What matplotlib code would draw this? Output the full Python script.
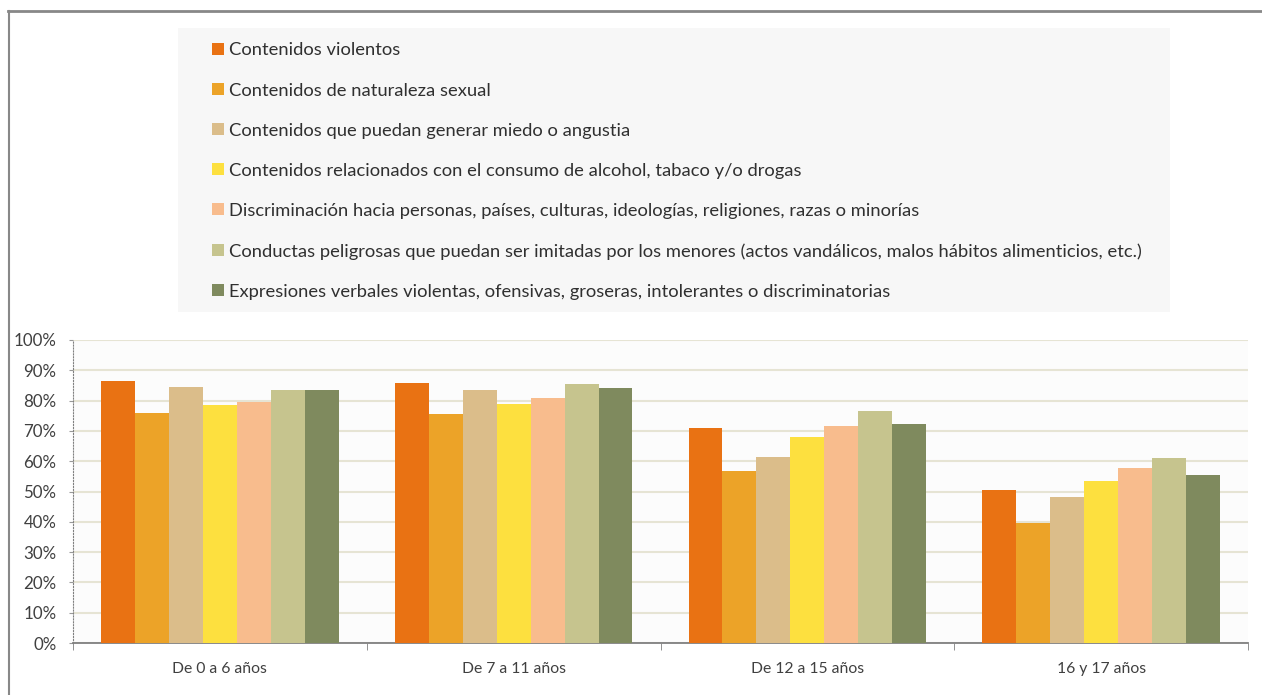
import matplotlib
matplotlib.use('Agg')
import matplotlib.pyplot as plt
from matplotlib.lines import Line2D
from matplotlib.patches import Rectangle
import numpy as np

plt.rcParams['font.family'] = ['Lato', 'DejaVu Sans']

categories = ['De 0 a 6 años', 'De 7 a 11 años', 'De 12 a 15 años', '16 y 17 años']

series_names = [
    'Contenidos violentos',
    'Contenidos de naturaleza sexual',
    'Contenidos que puedan generar miedo o angustia',
    'Contenidos relacionados con el consumo de alcohol, tabaco y/o drogas',
    'Discriminación hacia personas, países, culturas, ideologías, religiones, razas o minorías',
    'Conductas peligrosas que puedan ser imitadas por los menores (actos vandálicos, malos hábitos alimenticios, etc.)',
    'Expresiones verbales violentas, ofensivas, groseras, intolerantes o discriminatorias',
]

violentos = [0.866, 0.859, 0.709, 0.504]
sexual = [0.758, 0.757, 0.569, 0.397]
miedo = [0.846, 0.836, 0.615, 0.482]
alcohol = [0.785, 0.788, 0.680, 0.534]
discriminacion = [0.796, 0.810, 0.715, 0.579]
conductas = [0.836, 0.856, 0.765, 0.609]
expresiones = [0.836, 0.843, 0.722, 0.556]

colors = ['#E97213', '#ECA328', '#DBBD8A', '#FDE03F', '#F8BC8D', '#C6C48E', '#7F8A5E']

values = [violentos, sexual, miedo, alcohol, discriminacion, conductas, expresiones]

W, H = 1262, 695
fig = plt.figure(figsize=(W / 100, H / 100), dpi=100)
fig.patch.set_facecolor('white')
ax = fig.add_axes([73/W, 52/H, (1248-73)/W, (643-340)/H])
ax.set_facecolor('#FCFCFC')

x = np.arange(len(categories))
w = 0.1156
handles = []
for j, (name, vals) in enumerate(zip(series_names, values)):
    b = ax.bar(x + (j - 3) * w, vals, width=w, color=colors[j], label=name, zorder=3)
    handles.append(b)

ax.set_xlim(-0.5, 3.5)
ax.set_ylim(0, 1)
yt = np.arange(0, 1.01, 0.1)
ax.set_yticks(yt)
ax.set_yticklabels([f'{int(round(v*100))}%' for v in yt], fontsize=12.2, color='#404040')
ax.yaxis.grid(True, color='#E6E4D4', linewidth=1.5, zorder=0)
ax.tick_params(axis='y', length=3, color='#999999', pad=9)

ax.set_xticks(x)
ax.set_xticklabels(categories, fontsize=11.3, color='#404040')
ax.set_xticks(np.arange(-0.5, 3.6, 1), minor=True)
ax.tick_params(axis='x', which='major', length=0, pad=14)
ax.tick_params(axis='x', which='minor', length=5, color='#808080')

for s in ['top', 'right']:
    ax.spines[s].set_visible(False)
ax.spines['left'].set_linestyle(':')
ax.spines['left'].set_color('#808080')
ax.spines['bottom'].set_color('#808080')
ax.spines['bottom'].set_linewidth(1.3)

# legend background box
fig.add_artist(Rectangle((178/W, 1 - 312/H), 992/W, 284/H, transform=fig.transFigure,
                         facecolor='#F7F7F7', edgecolor='none', zorder=0))

leg = fig.legend(handles=handles, loc='upper left',
                 bbox_to_anchor=(201/W, 1 - 31/H),
                 fontsize=13.25, frameon=False,
                 handlelength=0.62, handleheight=0.62, handletextpad=0.3,
                 labelspacing=1.31, borderpad=0.62, borderaxespad=0)
for t in leg.get_texts():
    t.set_color('#303030')

# outer frame lines
fig.add_artist(Line2D([8/W, 1], [1 - 11/H, 1 - 11/H], transform=fig.transFigure,
                      color='#888888', linewidth=2))
fig.add_artist(Line2D([8.5/W, 8.5/W], [0, 1 - 11/H], transform=fig.transFigure,
                      color='#888888', linewidth=1.5))

fig.savefig('out.png', dpi=100)
